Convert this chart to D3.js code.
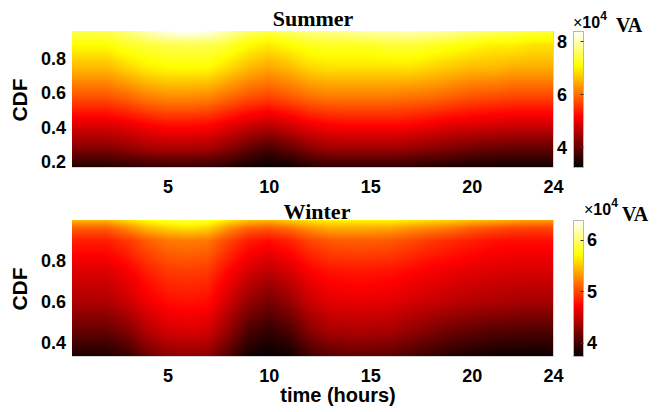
<!DOCTYPE html>
<html>
<head>
<meta charset="utf-8">
<script src="https://cdn.jsdelivr.net/npm/d3@7"></script>
<style>
  html, body { margin: 0; padding: 0; background: #fff; }
  svg { display: block; }
  .sans { font-family: "Liberation Sans", Arial, sans-serif; font-weight: bold; }
  .serif { font-family: "Liberation Serif", "Times New Roman", serif; font-weight: bold; }
</style>
</head>
<body>
<svg id="chart" width="668" height="412"></svg>
<script>
// Hour of day for each column of the load surface
const hours = [1, 2, 3, 4, 5, 6, 7, 8, 9, 10, 11, 12, 13, 14, 15, 16, 17, 18, 19, 20, 21, 22, 23, 24];

// Summer: CDF levels (rows) and apparent power in units of 1e4 VA, one row per level
const summerCdf = [0.17, 0.27, 0.42, 0.57, 0.74, 0.88, 0.96];
const summerLoad = [
  [3.50, 3.50, 3.55, 3.60, 3.65, 3.65, 3.60, 3.50, 3.40, 3.30, 3.35, 3.50, 3.60, 3.60, 3.60, 3.60, 3.55, 3.50, 3.45, 3.42, 3.40, 3.38, 3.38, 3.38],
  [4.20, 4.20, 4.30, 4.45, 4.50, 4.50, 4.45, 4.25, 3.95, 3.75, 3.95, 4.25, 4.40, 4.40, 4.40, 4.40, 4.35, 4.25, 4.15, 4.05, 4.00, 3.95, 3.95, 3.95],
  [4.95, 4.95, 5.05, 5.20, 5.30, 5.30, 5.25, 5.05, 4.85, 4.72, 4.88, 5.10, 5.20, 5.25, 5.25, 5.25, 5.20, 5.10, 5.00, 4.95, 4.90, 4.85, 4.85, 4.85],
  [5.75, 5.75, 5.90, 6.10, 6.20, 6.20, 6.15, 5.95, 5.75, 5.65, 5.80, 5.98, 6.05, 6.05, 6.05, 6.05, 6.00, 5.95, 5.85, 5.75, 5.70, 5.65, 5.65, 5.65],
  [6.55, 6.55, 6.75, 6.95, 7.05, 7.05, 7.05, 6.80, 6.55, 6.40, 6.55, 6.77, 6.85, 6.85, 6.85, 6.85, 6.85, 6.75, 6.65, 6.55, 6.55, 6.45, 6.45, 6.45],
  [7.10, 7.10, 7.30, 7.40, 7.50, 7.50, 7.50, 7.35, 7.10, 6.95, 7.10, 7.25, 7.30, 7.30, 7.30, 7.40, 7.40, 7.30, 7.20, 7.10, 7.00, 7.00, 6.90, 6.90],
  [7.50, 7.50, 7.70, 8.00, 8.30, 8.40, 8.30, 7.95, 7.60, 7.45, 7.60, 7.75, 7.80, 7.85, 7.95, 7.95, 8.00, 7.95, 7.85, 7.70, 7.60, 7.50, 7.40, 7.40]
];

// Winter: CDF levels (rows) and apparent power in units of 1e4 VA
const winterCdf = [0.335, 0.45, 0.60, 0.75, 0.90, 0.96, 1.00];
const winterLoad = [
  [3.85, 3.85, 3.95, 4.15, 4.28, 4.30, 4.28, 4.05, 3.82, 3.76, 3.80, 3.98, 4.08, 4.12, 4.12, 4.10, 4.02, 3.95, 3.88, 3.84, 3.81, 3.80, 3.79, 3.79],
  [4.12, 4.12, 4.22, 4.42, 4.55, 4.58, 4.55, 4.30, 4.02, 3.92, 4.02, 4.25, 4.38, 4.40, 4.40, 4.38, 4.30, 4.22, 4.15, 4.10, 4.06, 4.04, 4.03, 4.03],
  [4.42, 4.42, 4.52, 4.68, 4.77, 4.80, 4.77, 4.55, 4.32, 4.20, 4.32, 4.52, 4.62, 4.64, 4.64, 4.62, 4.57, 4.52, 4.48, 4.44, 4.42, 4.40, 4.38, 4.38],
  [4.60, 4.60, 4.70, 4.85, 4.95, 4.97, 4.95, 4.75, 4.57, 4.48, 4.57, 4.72, 4.80, 4.82, 4.82, 4.80, 4.75, 4.70, 4.66, 4.62, 4.60, 4.58, 4.58, 4.58],
  [4.85, 4.85, 4.95, 5.10, 5.20, 5.22, 5.20, 5.00, 4.84, 4.78, 4.86, 5.00, 5.08, 5.10, 5.10, 5.08, 5.02, 4.95, 4.90, 4.85, 4.80, 4.78, 4.78, 4.78],
  [5.10, 5.10, 5.25, 5.45, 5.55, 5.60, 5.55, 5.30, 5.12, 5.08, 5.16, 5.30, 5.40, 5.40, 5.40, 5.38, 5.30, 5.25, 5.20, 5.10, 5.05, 5.00, 5.00, 5.00],
  [5.45, 5.45, 5.60, 5.75, 5.85, 5.90, 5.85, 5.65, 5.50, 5.45, 5.55, 5.65, 5.70, 5.70, 5.70, 5.70, 5.65, 5.60, 5.55, 5.50, 5.45, 5.40, 5.35, 5.35]
];

// Axis extents and tick labels
const hourExtent = [0.3, 24];
const hourTicks = [5, 10, 15, 20, 24];
const summerCdfExtent = [0.17, 0.96];
const winterCdfExtent = [0.335, 1.0];
const summerCdfTicks = [0.2, 0.4, 0.6, 0.8];
const winterCdfTicks = [0.4, 0.6, 0.8];
const summerColorExtent = [3.25, 8.38];
const winterColorExtent = [3.74, 6.39];
const summerColorTicks = [4, 6, 8];
const winterColorTicks = [4, 5, 6];

// "hot" colormap: black -> red -> yellow -> white
function hot(t) {
  t = Math.max(0, Math.min(1, t));
  const c = v => Math.max(0, Math.min(1, v));
  const r = c(t / 0.375), g = c((t - 0.375) / 0.375), b = c((t - 0.75) / 0.25);
  return `rgb(${Math.round(r * 255)},${Math.round(g * 255)},${Math.round(b * 255)})`;
}

// Bilinear lookup of the load surface at (hour, cdf)
function sampleSurface(grid, levels, h, p) {
  const hh = Math.max(hours[0], Math.min(hours[hours.length - 1], h));
  let i = Math.min(d3.bisectRight(hours, hh) - 1, hours.length - 2);
  const fx = (hh - hours[i]) / (hours[i + 1] - hours[i]);
  const pp = Math.max(levels[0], Math.min(levels[levels.length - 1], p));
  let j = Math.min(d3.bisectRight(levels, pp) - 1, levels.length - 2);
  const fy = (pp - levels[j]) / (levels[j + 1] - levels[j]);
  const a = grid[j][i] * (1 - fx) + grid[j][i + 1] * fx;
  const b = grid[j + 1][i] * (1 - fx) + grid[j + 1][i + 1] * fx;
  return a * (1 - fy) + b * fy;
}

const svg = d3.select("#chart");
const plotLeft = 72, plotRight = 553;
const barLeft = 573, barWidth = 10;

function drawPanel(cfg) {
  const x = d3.scaleLinear().domain(hourExtent).range([plotLeft, plotRight]);
  const y = d3.scaleLinear().domain(cfg.cdfExtent).range([cfg.bottom, cfg.top]);
  const color = d3.scaleSequential(hot).domain(cfg.colorExtent);

  // Heat surface rasterised pixel by pixel through the scales
  const w = plotRight - plotLeft, h = cfg.bottom - cfg.top;
  const canvas = document.createElement("canvas");
  canvas.width = w; canvas.height = h;
  const ctx = canvas.getContext("2d");
  const img = ctx.createImageData(w, h);
  for (let py = 0; py < h; py++) {
    const p = y.invert(cfg.top + py + 0.5);
    for (let px = 0; px < w; px++) {
      const hr = x.invert(plotLeft + px + 0.5);
      const v = sampleSurface(cfg.grid, cfg.levels, hr, p);
      const c = d3.rgb(color(v));
      const k = (py * w + px) * 4;
      img.data[k] = c.r; img.data[k + 1] = c.g; img.data[k + 2] = c.b; img.data[k + 3] = 255;
    }
  }
  ctx.putImageData(img, 0, 0);
  svg.append("image")
    .attr("x", plotLeft).attr("y", cfg.top)
    .attr("width", w).attr("height", h)
    .attr("preserveAspectRatio", "none")
    .attr("href", canvas.toDataURL());

  // Light frame on the right and bottom
  svg.append("path")
    .attr("d", `M${plotRight + 0.5},${cfg.top}V${cfg.bottom + 0.5}H${plotLeft}`)
    .attr("fill", "none").attr("stroke", "#d4d4d4").attr("stroke-width", 1);

  // Axes
  const xAxis = svg.append("g").attr("class", "sans")
    .attr("transform", `translate(0,${cfg.bottom})`)
    .call(d3.axisBottom(x).tickValues(hourTicks).tickSize(0).tickPadding(13).tickFormat(d3.format("d")));
  const yAxis = svg.append("g").attr("class", "sans")
    .attr("transform", `translate(${plotLeft},0)`)
    .call(d3.axisLeft(y).tickValues(cfg.cdfTicks).tickSize(0).tickPadding(6).tickFormat(d3.format(".1f")));
  [xAxis, yAxis].forEach(g => {
    g.select(".domain").remove();
    g.selectAll("text").attr("font-size", 18).attr("font-family", null).attr("fill", "#000");
  });

  // Title
  svg.append("text").attr("class", "serif")
    .attr("x", cfg.titleX).attr("y", cfg.titleY)
    .attr("text-anchor", "middle").attr("font-size", 22)
    .text(cfg.title);

  // Y label
  svg.append("text").attr("class", "sans")
    .attr("transform", `translate(27,${cfg.labelY}) rotate(-90)`)
    .attr("text-anchor", "middle").attr("font-size", 21)
    .text("CDF");

  // Colorbar
  const cb = d3.scaleLinear().domain(cfg.colorExtent).range([cfg.bottom, cfg.top]);
  const defs = svg.append("defs");
  const gradId = "grad-" + cfg.title;
  const grad = defs.append("linearGradient").attr("id", gradId)
    .attr("x1", 0).attr("y1", 1).attr("x2", 0).attr("y2", 0);
  d3.range(0, 1.0001, 0.0625).forEach(t => {
    grad.append("stop").attr("offset", t).attr("stop-color", hot(t));
  });
  svg.append("rect")
    .attr("x", barLeft + 0.5).attr("y", cfg.top + 0.5)
    .attr("width", barWidth).attr("height", cfg.bottom - cfg.top)
    .attr("fill", `url(#${gradId})`)
    .attr("stroke", "#b8b8b8").attr("stroke-width", 1);
  svg.append("g").selectAll("line").data(cfg.colorTicks).join("line")
    .attr("x1", barLeft + barWidth - 2.5).attr("x2", barLeft + barWidth + 0.5)
    .attr("y1", d => Math.round(cb(d)) + 0.5).attr("y2", d => Math.round(cb(d)) + 0.5)
    .attr("stroke", "#333").attr("stroke-width", 1);
  svg.append("g").attr("class", "sans").selectAll("text").data(cfg.colorTicks).join("text")
    .attr("x", cfg.barLabelX).attr("y", d => cb(d))
    .attr("dy", "0.36em")
    .attr("text-anchor", cfg.barLabelAnchor)
    .attr("font-size", 18)
    .text(d => d);

  // Colorbar unit: x10^4 VA
  const unit = svg.append("text").attr("x", cfg.unitX).attr("y", cfg.unitY);
  unit.append("tspan").attr("font-family", "Liberation Sans, Arial, sans-serif").attr("font-size", 16).text("\u00d7");
  unit.append("tspan").attr("class", "sans").attr("font-size", 16).text("10");
  unit.append("tspan").attr("class", "sans").attr("font-size", 12).attr("dy", -8).text("4");
  svg.append("text").attr("class", "serif")
    .attr("x", cfg.vaX).attr("y", cfg.vaY).attr("font-size", 20)
    .text("VA");
}

drawPanel({
  title: "Summer", titleX: 313, titleY: 26,
  top: 31, bottom: 167,
  grid: summerLoad, levels: summerCdf,
  cdfExtent: summerCdfExtent, cdfTicks: summerCdfTicks,
  colorExtent: summerColorExtent, colorTicks: summerColorTicks,
  barLabelX: 567, barLabelAnchor: "end",
  unitX: 573, unitY: 28, vaX: 616, vaY: 32,
  labelY: 100
});

drawPanel({
  title: "Winter", titleX: 317, titleY: 219,
  top: 220, bottom: 356,
  grid: winterLoad, levels: winterCdf,
  cdfExtent: winterCdfExtent, cdfTicks: winterCdfTicks,
  colorExtent: winterColorExtent, colorTicks: winterColorTicks,
  barLabelX: 587, barLabelAnchor: "start",
  unitX: 584, unitY: 215, vaX: 622, vaY: 221,
  labelY: 289
});

// Shared x label
svg.append("text").attr("class", "sans")
  .attr("x", 338).attr("y", 402)
  .attr("text-anchor", "middle").attr("font-size", 20)
  .text("time (hours)");
</script>
</body>
</html>
